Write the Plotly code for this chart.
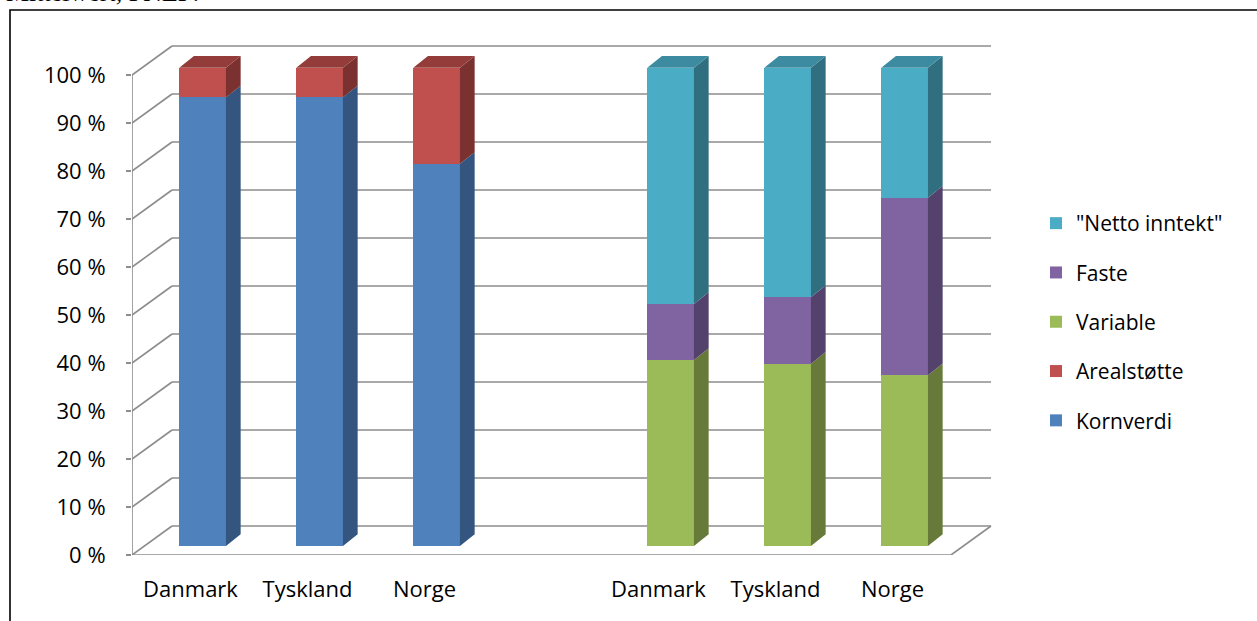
import plotly.graph_objects as go

# ---------------- data ----------------
categories = ["Danmark", "Tyskland", "Norge", "", "Danmark", "Tyskland", "Norge"]
left_pos = [0, 1, 2]
right_pos = [4, 5, 6]

kornverdi = [93.8, 93.8, 79.9]
arealstotte = [6.2, 6.2, 20.1]
variable = [38.9, 38.1, 35.7]
faste = [11.7, 13.9, 37.1]
netto = [49.4, 48.0, 27.2]

y_ticks = [0, 10, 20, 30, 40, 50, 60, 70, 80, 90, 100]
y_ticktext = [f"{v} %" for v in y_ticks]

series = [
    # name, values, positions, front, side, top, legend rank
    ("Kornverdi", kornverdi, left_pos, "#4F81BD", "#34557F", "#3F6897", 5),
    ("Arealstøtte", arealstotte, left_pos, "#C0504D", "#7B312F", "#943C39", 4),
    ("Variable", variable, right_pos, "#9BBB59", "#677A3A", "#7C9647", 3),
    ("Faste", faste, right_pos, "#8064A2", "#54426C", "#665083", 2),
    ("\"Netto inntekt\"", netto, right_pos, "#4BACC6", "#306F80", "#3C8BA0", 1),
]

# ---------------- geometry (styling) ----------------
FONT = "Open Sans"
GRID = "#8C8C8C"
PX_X = 117.0          # px per category
PX_Y2 = 4.8           # px per % on the front (axis) plane
PX_Y = 4.783          # px per % on the bar plane
DX = 40 / PX_X        # wall depth in x units
DY2 = 29 / PX_Y2      # wall depth in y2 units
BX = 12.1 / PX_X      # bar shift from category centre
BW = 46.7 / PX_X      # bar width
SDX = 14.7 / PX_X     # bar depth (x)
SDY = 11.7 / PX_Y     # bar depth (y, bar units)

fig = go.Figure()

# front faces via stacked bars
for name, vals, pos, front, side, top, rank in series:
    fig.add_trace(go.Bar(
        x=[p + BX for p in pos], y=vals, width=BW, name=name,
        marker=dict(color=front, line=dict(width=0)),
        legendgroup=name, legendrank=rank, hoverinfo="skip",
    ))

# side and top faces computed from the data
cum = {}
stack_top = {}
for name, vals, pos, front, side, top, rank in series:
    sx, sy = [], []
    for p, v in zip(pos, vals):
        b = cum.get(p, 0.0)
        t = b + v
        xr = p + BX + BW / 2
        sx += [xr, xr + SDX, xr + SDX, xr, xr, None]
        sy += [b, b + SDY, t + SDY, t, b, None]
        cum[p] = t
        stack_top[p] = (t, top)
    fig.add_trace(go.Scatter(
        x=sx, y=sy, mode="lines", fill="toself", fillcolor=side,
        line=dict(width=0, color=side), showlegend=False, hoverinfo="skip",
    ))

for p, (t, col) in stack_top.items():
    xl = p + BX - BW / 2
    xr = p + BX + BW / 2
    fig.add_trace(go.Scatter(
        x=[xl, xr, xr + SDX, xl + SDX, xl], y=[t, t, t + SDY, t + SDY, t],
        mode="lines", fill="toself", fillcolor=col,
        line=dict(width=0, color=col), showlegend=False, hoverinfo="skip",
    ))

# invisible trace to activate y2 (front axis)
fig.add_trace(go.Scatter(x=[-0.5], y=[0], yaxis="y2", mode="markers",
                         marker=dict(opacity=0), showlegend=False, hoverinfo="skip"))

# walls / grid
x_left = -0.5
x_right = len(categories) - 0.5
shapes = []
line = dict(color=GRID, width=1.6)
for v in y_ticks:
    shapes.append(dict(type="line", xref="x", yref="y2", x0=x_left, y0=v,
                       x1=x_left + DX, y1=v + DY2, line=line, layer="below"))
    shapes.append(dict(type="line", xref="x", yref="y2", x0=x_left + DX, y0=v + DY2,
                       x1=x_right + DX, y1=v + DY2, line=line, layer="below"))
shapes.append(dict(type="line", xref="x", yref="y2", x0=x_left, y0=0,
                   x1=x_right, y1=0, line=line, layer="below"))
shapes.append(dict(type="line", xref="x", yref="y2", x0=x_right, y0=0,
                   x1=x_right + DX, y1=DY2, line=line, layer="below"))
shapes.append(dict(type="line", xref="x", yref="y2", x0=x_left, y0=0,
                   x1=x_left, y1=y_ticks[-1], line=line, layer="below"))
# x tick marks at category boundaries
for i in range(len(categories) + 1):
    shapes.append(dict(type="line", xref="x", yref="y2", x0=x_left + i, y0=0,
                       x1=x_left + i, y1=-7 / PX_Y2, line=line, layer="below"))
# outer frame
shapes.append(dict(type="rect", xref="paper", yref="paper",
                   x0=(10 - 132) / 861, y0=(555 - 640) / 515,
                   x1=(1275 - 132) / 861, y1=(555 - 10) / 515,
                   line=dict(color="black", width=1.6)))

TOP = 40
BOT = 555
fig.update_layout(
    width=1257, height=621,
    margin=dict(l=132, r=1257 - 993, t=TOP, b=621 - BOT),
    paper_bgcolor="white", plot_bgcolor="rgba(0,0,0,0)",
    barmode="stack", bargap=0,
    font=dict(family=FONT, size=22, color="black"),
    showlegend=True,
    legend=dict(x=(1036 - 132) / 861, y=(BOT - 203) / (BOT - TOP),
                xanchor="left", yanchor="top", traceorder="grouped",
                font=dict(family=FONT, size=21, color="black"),
                tracegroupgap=19, bgcolor="rgba(0,0,0,0)"),
    xaxis=dict(range=[x_left, x_left + (993 - 132) / PX_X],
               tickvals=list(range(len(categories))), ticktext=categories,
               showgrid=False, zeroline=False, showline=False, ticks="",
               ticklabelstandoff=19, tickfont=dict(family=FONT, size=22)),
    yaxis=dict(range=[-(BOT - 546) / PX_Y, (546 - TOP) / PX_Y], visible=False,
               showgrid=False, zeroline=False),
    yaxis2=dict(range=[0, (BOT - TOP) / PX_Y2], overlaying="y", side="left",
                tickvals=y_ticks, ticktext=y_ticktext, ticks="outside", ticklen=5,
                tickcolor=GRID, tickwidth=1.6, showgrid=False, zeroline=False,
                showline=False, ticklabelstandoff=16,
                tickfont=dict(family=FONT, size=22)),
    shapes=shapes,
    annotations=[dict(text="Mittelwert, FNEP:", xref="paper", yref="paper",
                      x=(4 - 132) / 861, y=(BOT - 9) / (BOT - TOP),
                      xanchor="left", yanchor="bottom", showarrow=False,
                      font=dict(family="Liberation Serif", size=26, color="black"))],
)

fig.write_html("out.html", config={"displayModeBar": False},
               post_script="document.body.style.margin='0';document.body.style.overflow='hidden';")
